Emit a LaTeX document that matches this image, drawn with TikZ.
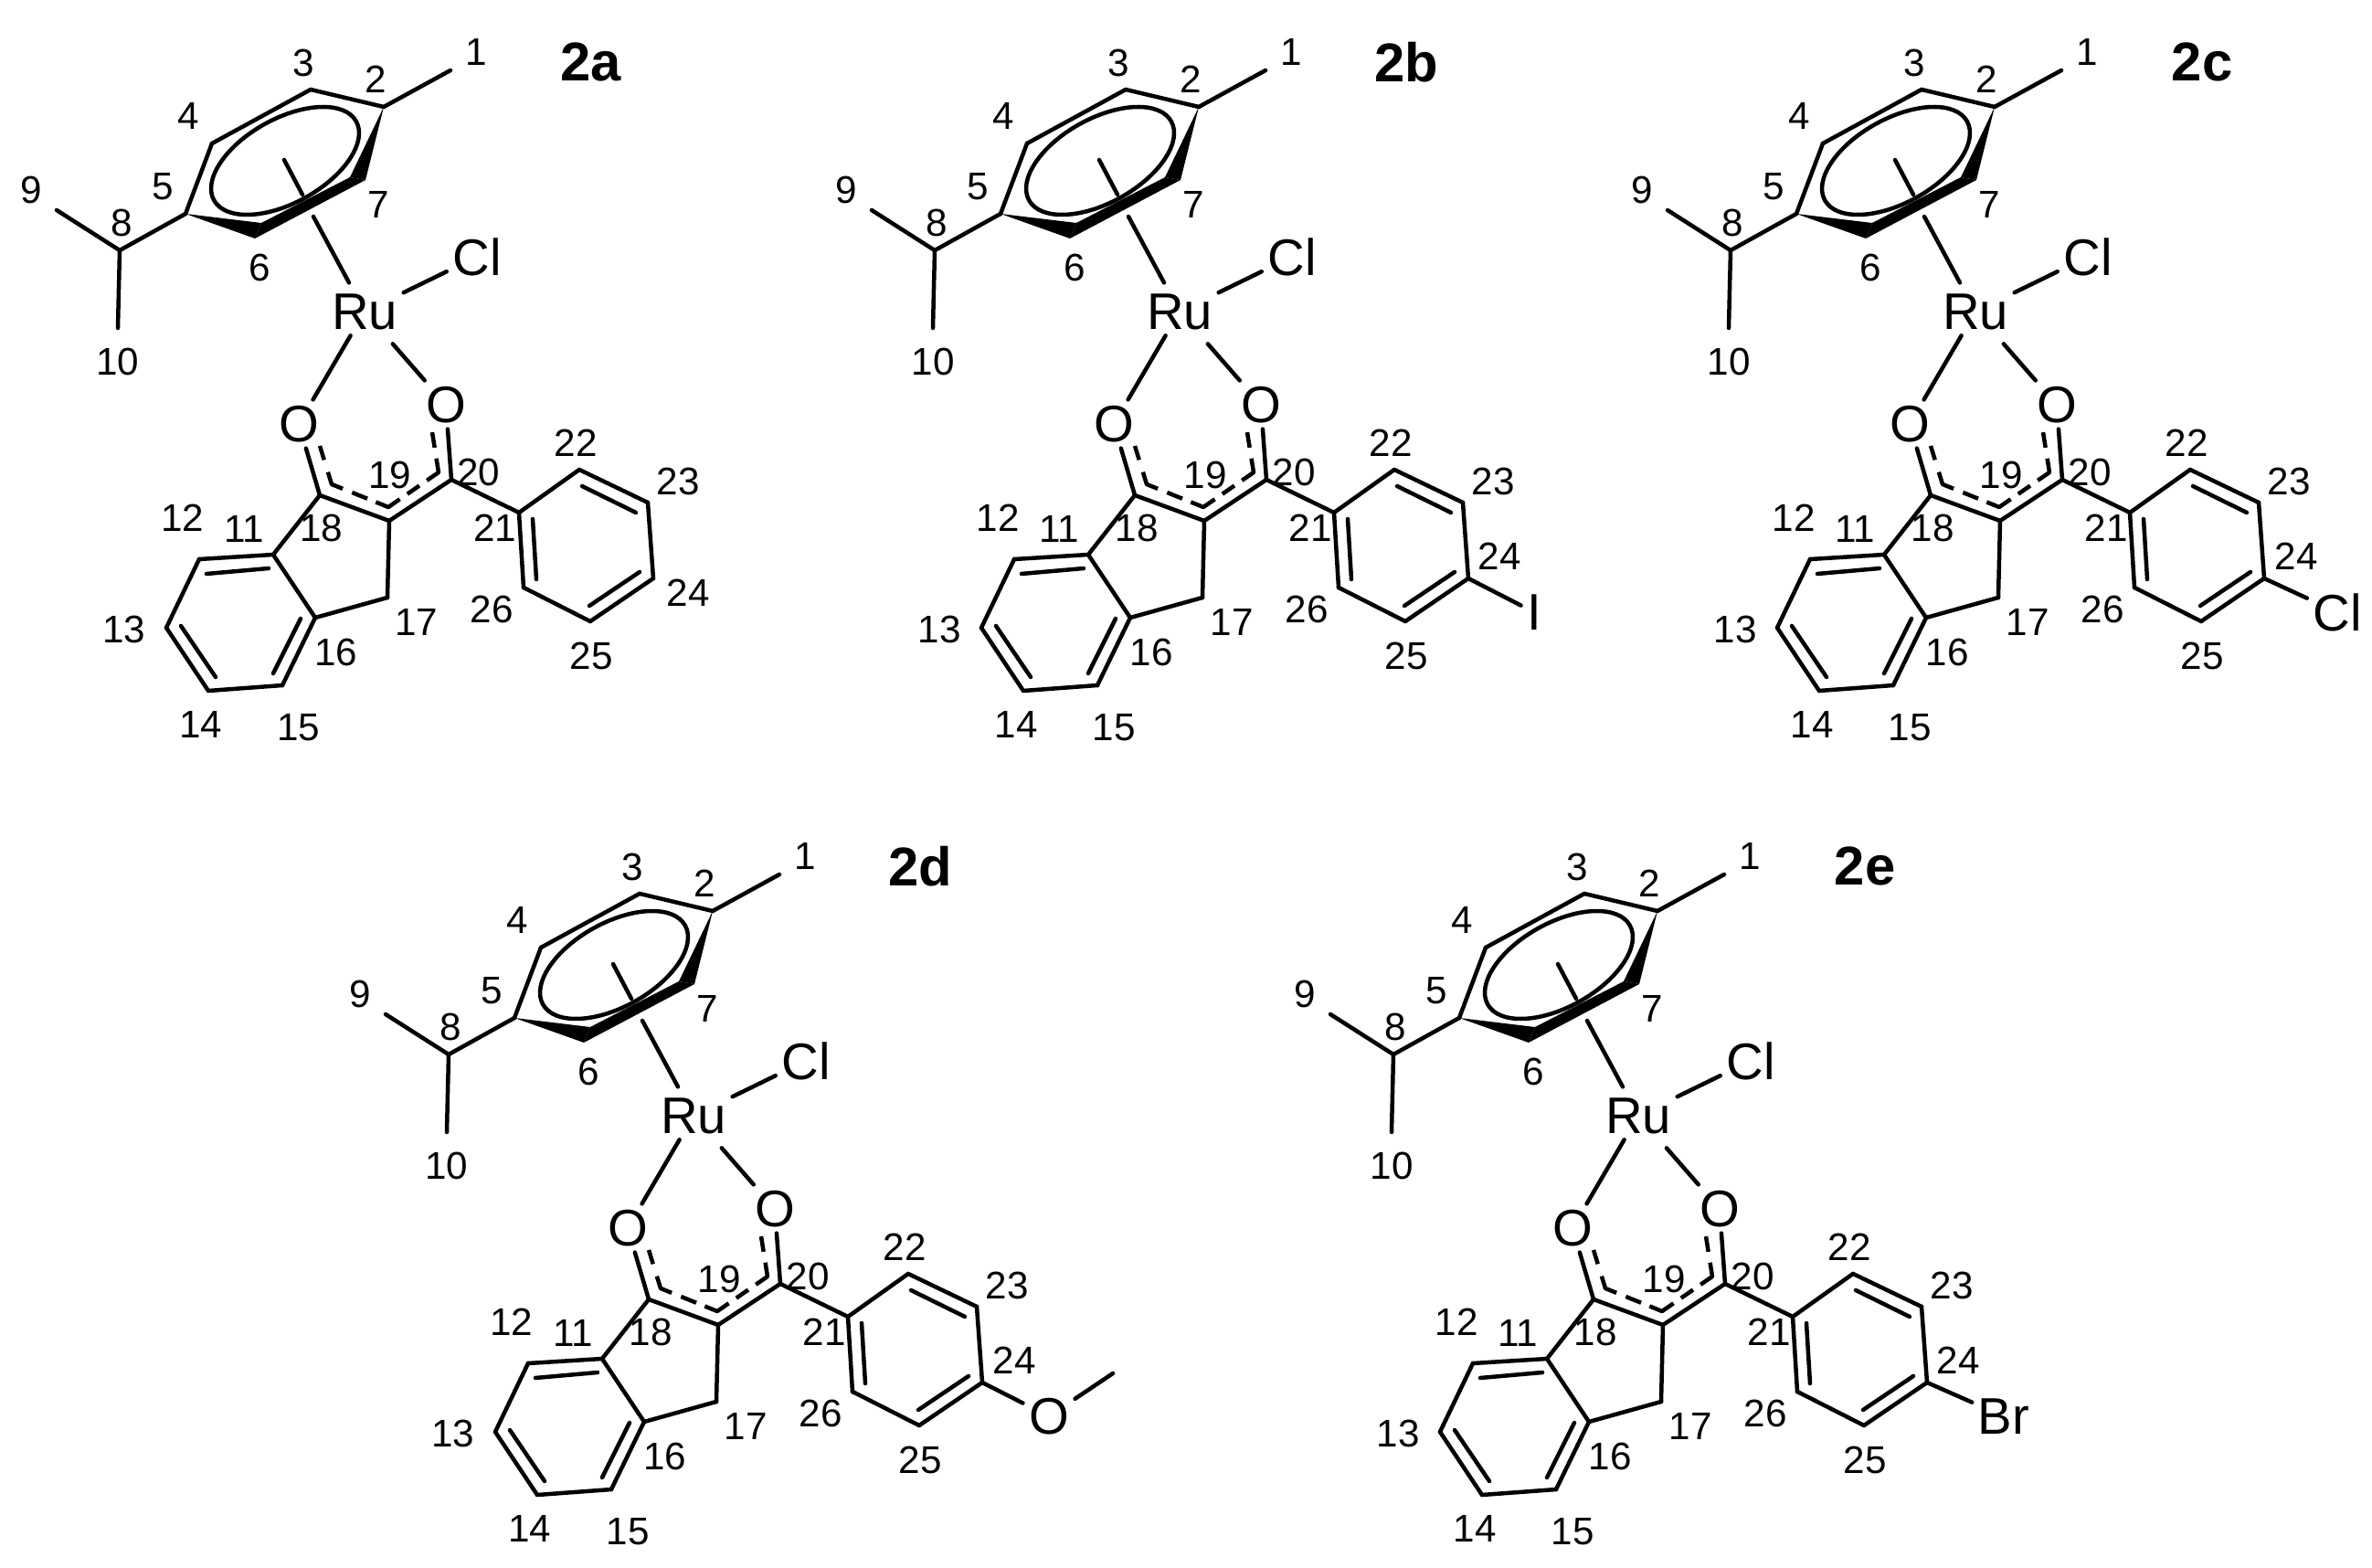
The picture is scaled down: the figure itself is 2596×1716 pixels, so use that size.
\documentclass[tikz,border=0pt]{standalone}
\usepackage{fontspec}
\setmainfont{Liberation Sans}
\tikzset{
	bond/.style = {line width=0.045cm, line cap=round, line join=round},
	delocal/.style = {bond, line cap=butt, dash pattern=on 0.16cm off 0.14cm on 0.27cm off 0.11cm on 0.18cm off 0.10cm on 0.30cm off 0.10cm on 0.16cm off 0.10cm on 0.31cm off 0.12cm on 0.17cm off 0.5cm},
	wedge/.style = {fill=black},
	atom/.style = {inner sep=0.06cm, font=\fontsize{16}{16}\selectfont},
	num/.style = {inner sep=0pt, font=\fontsize{12}{12}\selectfont},
	title/.style = {inner sep=0pt, font=\fontsize{17}{17}\selectfont\bfseries}}
\newcommand{\rucomplex}[7]{
	\begin{scope}[shift={(#2,#3)}, name prefix=#1-]
	\foreach \n/\x/\y in {1/493/77,2/420/117,3/340/98,4/232/157,5/203/234,6o/279/261,6i/286/244,
		7o/400/197,7i/383/194,8/131/274,9/62/230,10/129/359,cen/311/175,stuba/331/213,stubb/343/237,
		11/299/607,12/218/612,13/182/687,14/228/756,15/309/750,16/345/676,17/424/654,18/350/542,
		19/426/570,20/494/525,21/568/561,22/634/514,23/709/550,24/715/633,25/646/680,26/573/643,
		da/350/488,db/363/530,dc/425/555,dd/480/517,de/473/473,
		i22/637/532,i23/696/561,i24/700/626,i25/645/663,i21/583/568,i26/587/634,
		i11/294/622,i12/226/628,i13/198/685,i14/236/741,i15/299/737,i16/329/677}
		\coordinate (c\n) at (\x,\y);
	\node[atom] (Ru) at (399,341) {Ru};
	\node[atom] (Cl) at (522,281) {Cl};
	\node[atom] (Oa) at (327,464) {O};
	\node[atom] (Ob) at (488,443) {O};
	\foreach \a/\b in {1/2,2/3,3/4,4/5,5/8,8/9,8/10,cen/stuba,
		18/11,11/12,12/13,13/14,14/15,15/16,16/11,16/17,17/19,18/19,19/20,20/21,
		21/22,22/23,23/24,24/25,25/26,26/21,i22/i23,i24/i25,i21/i26,i11/i12,i13/i14,i15/i16}
		\draw[bond] (c\a) -- (c\b);
	\fill[wedge] (c2) -- (c7o) -- (c7i) -- cycle;
	\fill[wedge] (c5) -- (c6o) -- (c6i) -- cycle;
	\fill[wedge] (c6i) -- (c7i) -- (c7o) -- (c6o) -- cycle;
	\draw[bond, rotate around={29:(312,176)}] (312,176) ellipse [x radius=89, y radius=46];
	\draw[bond, shorten >=0.06cm] (cstubb) -- (Ru);
	\draw[bond] (Ru) -- (Cl);
	\draw[bond] (Ru) -- (Oa);
	\draw[bond, shorten <=0.12cm] (Ru) -- (Ob);
	\draw[bond] (Oa) -- (c18);
	\draw[bond] (Ob) -- (c20);
	\draw[delocal] (cda) -- (cdb) -- (cdc) -- (cdd) -- (cde);
	\foreach \t/\x/\y in {1/521/57,2/411/87,3/332/69,4/206/127,5/178/204,6/284/293,7/414/224,8/133/244,
		9/34/208,10/129/396,11/267/579,12/200/567,13/136/689,14/220/793,15/327/796,16/368/714,
		17/456/681,18/352/578,19/427/520,20/524/517,21/542/578,22/630/485,23/742/527,25/647/718,26/538/667}
		\node[num] (n\t) at (\x,\y) {\t};
	\node[num] (n24) at (#5,#6) {24};
	\node[title] (label) at (647,68) {#4};
	#7
	\end{scope}
}

\begin{document}
\begin{tikzpicture}[x=0.01cm, y=-0.01cm]
	\useasboundingbox (0,0) rectangle (2596,1716);
	\rucomplex{a}{0}{0}{2a}{753}{649}{}
	\rucomplex{b}{892}{0}{2b}{749}{609}{
		\node[atom] (sub) at (787,670) {I};
		\draw[bond] (c24) -- (sub);}
	\rucomplex{c}{1763}{0}{2c}{750}{609}{
		\node[atom] (sub) at (795,670) {Cl};
		\draw[bond] (c24) -- (sub);}
	\rucomplex{d}{360}{880}{2d}{750}{609}{
		\node[atom] (sub) at (788,670) {O};
		\coordinate (me) at (858,623);
		\draw[bond] (c24) -- (sub);
		\draw[bond] (sub) -- (me);}
	\rucomplex{e}{1394}{880}{2e}{749}{609}{
		\node[atom] (sub) at (799,670) {Br};
		\draw[bond] (c24) -- (sub);}
\end{tikzpicture}
\end{document}
